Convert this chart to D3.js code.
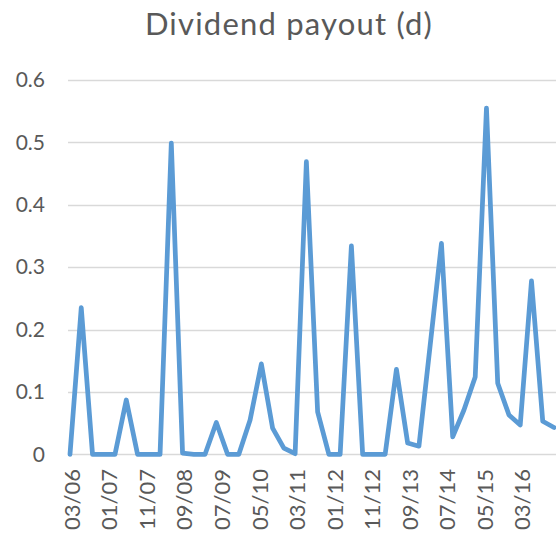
<!DOCTYPE html>
<html>
<head>
<meta charset="utf-8">
<script src="https://cdn.jsdelivr.net/npm/d3@7"></script>
<style>
  html, body { margin: 0; padding: 0; background: #fff; }
  svg { display: block; }
  text { font-family: Lato, "Open Sans", sans-serif; fill: #595959; }
</style>
</head>
<body>
<svg id="chart" width="556" height="537"></svg>
<script>
// Quarterly observations starting 03/2006
const startMonth = "03/06";
const stepMonths = 3;
const payout = [
  0, 0.235, 0, 0, 0, 0.087, 0, 0, 0, 0.499,
  0.002, 0, 0, 0.051, 0, 0, 0.055, 0.145, 0.042, 0.010,
  0.001, 0.469, 0.068, 0, 0, 0.334, 0, 0, 0, 0.136,
  0.018, 0.013, 0.175, 0.338, 0.028, 0.071, 0.124, 0.555, 0.114, 0.063,
  0.047, 0.278, 0.053, 0.043
];
const xTickLabels = ["03/06","01/07","11/07","09/08","07/09","05/10","03/11","01/12","11/12","09/13","07/14","05/15","03/16"];
const yTicks = [0, 0.1, 0.2, 0.3, 0.4, 0.5, 0.6];
const title = "Dividend payout (d)";

// month index helpers (Excel-style date axis with monthly base unit)
const toMonthIndex = s => { const [m, y] = s.split("/").map(Number); return (2000 + y) * 12 + (m - 1); };
const m0 = toMonthIndex(startMonth);
const data = payout.map((v, i) => ({ m: m0 + i * stepMonths, v }));

const svg = d3.select("#chart");
const plotLeft = 68, plotRight = 556;

const x = d3.scaleLinear()
  .domain([m0, m0 + (payout.length - 1) * stepMonths])
  .range([70, 554]);
const y = d3.scaleLinear().domain([0, 0.6]).range([454.3, 80]);

// title
svg.append("text")
  .attr("x", 289).attr("y", 35)
  .attr("text-anchor", "middle")
  .style("font-size", "31px")
  .style("letter-spacing", "1.2px")
  .text(title);

// gridlines
svg.append("g").selectAll("line")
  .data(yTicks)
  .join("line")
  .attr("x1", plotLeft).attr("x2", plotRight)
  .attr("y1", d => Math.round(y(d)) + 0.5).attr("y2", d => Math.round(y(d)) + 0.5)
  .attr("stroke", "#d9d9d9").attr("stroke-width", 1.5);

// y axis labels
const yAxis = d3.axisLeft(y).tickValues(yTicks).tickSize(0).tickPadding(0)
  .tickFormat(d => d === 0 ? "0" : d3.format(".1f")(d));
svg.append("g")
  .attr("transform", "translate(45,0)")
  .call(yAxis)
  .call(g => g.select(".domain").remove())
  .call(g => g.selectAll("text").style("font-size", "21px").attr("fill", "#595959"));

// x axis labels (rotated)
const xAxis = d3.axisBottom(x)
  .tickValues(xTickLabels.map(toMonthIndex))
  .tickSize(0).tickPadding(0)
  .tickFormat((d, i) => xTickLabels[i]);
svg.append("g")
  .attr("transform", "translate(1.5,469)")
  .call(xAxis)
  .call(g => g.select(".domain").remove())
  .call(g => g.selectAll("text")
    .style("font-size", "22px")
    .attr("fill", "#595959")
    .attr("text-anchor", "end")
    .attr("transform", "rotate(-90)")
    .attr("x", 0).attr("y", 0)
    .attr("dx", 0).attr("dy", "0.36em"));

// line
const line = d3.line().x(d => x(d.m)).y(d => y(d.v));
svg.append("path")
  .datum(data)
  .attr("d", line)
  .attr("fill", "none")
  .attr("stroke", "#5b9bd5")
  .attr("stroke-width", 4.75)
  .attr("stroke-linejoin", "round")
  .attr("stroke-linecap", "round");
</script>
</body>
</html>
